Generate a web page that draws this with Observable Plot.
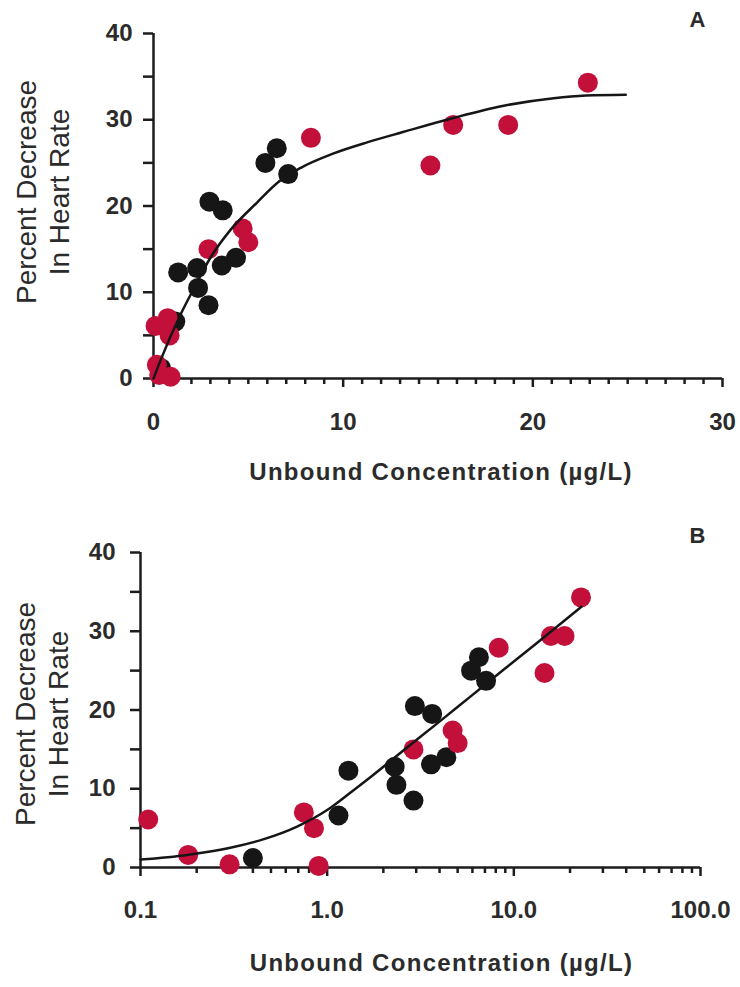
<!DOCTYPE html>
<html>
<head>
<meta charset="utf-8">
<script src="https://cdn.jsdelivr.net/npm/d3@7"></script>
<script src="https://cdn.jsdelivr.net/npm/@observablehq/plot@0.6"></script>
<style>
  body { margin: 0; background: #fff; }
  #chart { width: 740px; }
  #chart svg { display: block; overflow: visible; background: #fff; }
</style>
</head>
<body>
<div id="chart"></div>
<script>
// Subject group 1 (black): unbound concentration (µg/L) and % decrease in heart rate
const blackConc   = [0.4, 1.15, 1.3, 2.3, 2.35, 2.9, 2.95, 3.65, 3.6, 4.35, 5.9, 6.5, 7.1];
const blackEffect = [1.2, 6.6, 12.3, 12.8, 10.5, 8.5, 20.5, 19.5, 13.1, 14.0, 25.0, 26.7, 23.7];

// Subject group 2 (red)
const redConc   = [0.11, 0.18, 0.3, 0.9, 0.75, 0.85, 2.9, 4.7, 5.0, 8.3, 14.6, 15.8, 18.7, 22.9];
const redEffect = [6.1, 1.6, 0.4, 0.2, 7.0, 5.0, 15.0, 17.4, 15.8, 27.9, 24.7, 29.4, 29.4, 34.3];

// Fitted concentration–effect curve, linear concentration axis (panel A)
const fitLinConc   = [0, 0.37, 1.4, 2.12, 3.0, 4.05, 5.46, 6.6, 7.74, 9.5, 11.3, 13.2, 15.8, 18.4, 21.1, 22.8, 24.9];
const fitLinEffect = [0, 2.1, 7.3, 10.4, 14.0, 17.2, 20.4, 22.8, 24.4, 26.1, 27.4, 28.6, 30.2, 31.6, 32.5, 32.8, 32.9];

// Fitted curve, log concentration axis (panel B)
const fitLogConc   = [0.1, 0.178, 0.303, 0.458, 0.69, 1.0, 1.33, 1.71, 2.57, 3.89, 5.85, 8.8, 13.3, 23];
const fitLogEffect = [1.0, 1.6, 2.5, 3.6, 5.2, 7.3, 9.5, 11.5, 14.9, 18.3, 21.7, 25.1, 28.5, 33.1];

// Axis ticks
const yTicks = [0, 5, 10, 15, 20, 25, 30, 35, 40];
const xMajorLin = [0, 10, 20, 30];
const xMinorLin = [1, 2, 3, 4, 5, 6, 7, 8, 9, 11, 12, 13, 14, 15, 16, 17, 18, 19,
                   21, 22, 23, 24, 25, 26, 27, 28, 29];
const xMajorLog = [0.1, 1, 10, 100];
const xMinorLog = [0.2, 0.3, 0.4, 0.5, 0.6, 0.7, 0.8, 0.9,
                   2, 3, 4, 5, 6, 7, 8, 9,
                   20, 30, 40, 50, 60, 70, 80, 90];

const yLabel = "Percent Decrease\nIn Heart Rate";
const xLabel = "Unbound Concentration (µg/L)";

const FONT = "'Liberation Sans', Arial, Helvetica, sans-serif";
const INK = "#1c1c1c";
const TEXT = "#2b2b2b";
const RED = "#c3103b";

const zip = (xs, ys) => xs.map((x, i) => ({conc: x, effect: ys[i]}));
const black = zip(blackConc, blackEffect);
const red = zip(redConc, redEffect);

function panel(o) {
  const svg = Plot.plot({
    width: 740,
    height: o.height,
    marginTop: o.marginTop,
    marginBottom: o.marginBottom,
    marginLeft: o.marginLeft,
    marginRight: o.marginRight,
    style: {fontFamily: FONT, fontSize: "24px", fontWeight: "bold", color: TEXT, background: "#fff"},
    x: {type: o.type, domain: o.domain},
    y: {domain: [0, 40]},
    marks: [
      // axis lines
      Plot.ruleY([0], {stroke: INK, strokeWidth: 2.5}),
      Plot.ruleX([o.domain[0]], {y1: 0, y2: 40, stroke: INK, strokeWidth: 2.5}),
      // y ticks every 5, labels every 10
      Plot.axisY({ticks: yTicks, tickSize: 10, tickPadding: o.yPad, strokeWidth: 2.5, stroke: INK,
                  tickFormat: d => (d % 10 === 0 ? String(d) : ""), label: null, fill: TEXT}),
      // x minor and major ticks
      Plot.axisX({ticks: o.minor, tickSize: 6, strokeWidth: 2.5, stroke: INK, tickFormat: () => "", label: null}),
      Plot.axisX({ticks: o.major, tickSize: 9, tickPadding: o.xPad, strokeWidth: 2.5, stroke: INK,
                  tickFormat: o.fmt, label: null, fill: TEXT}),
      // data
      Plot.dot(black, {x: "conc", y: "effect", r: 10, fill: "#161616"}),
      Plot.dot(red, {x: "conc", y: "effect", r: 10, fill: RED}),
      Plot.line(o.fit, {x: "conc", y: "effect", curve: "monotone-x", stroke: "#161616", strokeWidth: 2.5}),
      // labels
      Plot.text([yLabel], {frameAnchor: "left", rotate: -90, dx: o.yLabDx, dy: o.yLabDy,
                           fontSize: 28, fontWeight: "normal", lineHeight: 1.18,
                           textAnchor: "middle", lineAnchor: "middle", fill: TEXT}),
      Plot.text([xLabel], {frameAnchor: "bottom", dx: o.xLabDx, dy: o.xLabDy,
                           fontSize: 24, fontWeight: "bold", lineAnchor: "middle", fill: TEXT}),
      Plot.text([o.letter], {frameAnchor: "top-right", dx: o.letDx, dy: o.letDy,
                             fontSize: 22, fontWeight: "bold", lineAnchor: "middle", textAnchor: "middle", fill: TEXT})
    ]
  });
  d3.select(svg).selectAll("text")
    .filter(function () { return this.textContent === xLabel; })
    .style("letter-spacing", "1.3px");
  return svg;
}

const chart = document.getElementById("chart");

chart.append(panel({
  type: "linear", domain: [0, 30],
  height: 495, marginTop: 33, marginBottom: 117, marginLeft: 153, marginRight: 18,
  major: xMajorLin, minor: xMinorLin, fmt: d => String(d),
  fit: zip(fitLinConc, fitLinEffect),
  yPad: 11, xPad: 25,
  yLabDx: -112, yLabDy: -14,
  xLabDx: 3, xLabDy: 94,
  letter: "A", letDx: -25, letDy: -14
}));

chart.append(panel({
  type: "log", domain: [0.1, 100],
  height: 492, marginTop: 57, marginBottom: 120, marginLeft: 140, marginRight: 40,
  major: xMajorLog, minor: xMinorLog, fmt: d => d.toFixed(1),
  fit: zip(fitLogConc, fitLogEffect),
  yPad: 15, xPad: 24,
  yLabDx: -100, yLabDy: 4,
  xLabDx: 21, xLabDy: 96,
  letter: "B", letDx: -3, letDy: -17
}));
</script>
</body>
</html>
